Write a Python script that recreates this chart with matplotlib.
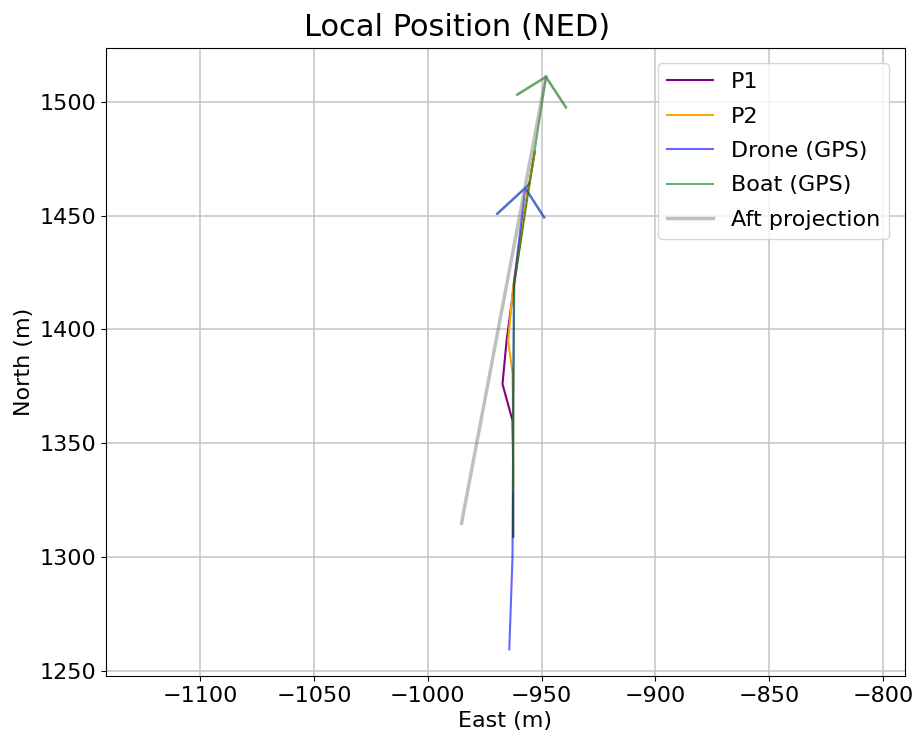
# Local position plot: drone/boat tracks in NED frame
import matplotlib
matplotlib.use("Agg")
import matplotlib.pyplot as plt

# track data (east, north) in metres
p1_e = [-962.5, -962.5, -962.8, -967.2, -965.4, -961.8, -957.0, -953.0]
p1_n = [1309, 1340, 1360, 1376, 1395, 1422, 1455, 1478]

p2_e = [-962.5, -962.5, -962.8, -964.7, -962.5, -957.0, -953.0]
p2_n = [1329, 1360, 1381, 1395, 1419, 1455, 1478]

drone_e = [-964.2, -962.8, -962.5, -962.2, -957.2, -955.5]
drone_n = [1259.5, 1300, 1360, 1420, 1462.1, 1464.0]

boat_e = [-962.5, -962.5, -962.0, -948.1]
boat_n = [1309, 1360, 1420, 1510.9]

aft_e = [-985.2, -948.1]
aft_n = [1314.9, 1510.9]

# heading arrow heads (left wing, tip, right wing)
drone_head_e = [-969.5, -957.2, -948.9]
drone_head_n = [1450.8, 1462.1, 1449.2]
boat_head_e = [-960.7, -948.1, -939.3]
boat_head_n = [1503.1, 1510.9, 1497.5]

fig, ax = plt.subplots(figsize=(9.14, 7.34), dpi=100)
fig.subplots_adjust(left=0.116, right=0.990, bottom=0.079, top=0.935)

ax.plot(p1_e, p1_n, color="purple", lw=1.5, label="P1")
ax.plot(p2_e, p2_n, color="orange", lw=1.5, label="P2")
ax.plot(drone_e, drone_n, color="blue", lw=1.5, alpha=0.6, label="Drone (GPS)")
ax.plot(drone_head_e, drone_head_n, color="#2a48c8", lw=1.8, alpha=0.8)
ax.plot(boat_e, boat_n, color="green", lw=1.5, alpha=0.6, label="Boat (GPS)")
ax.plot(boat_head_e, boat_head_n, color="#2e8b2e", lw=1.8, alpha=0.75)
ax.plot(aft_e, aft_n, color="gray", lw=2.5, alpha=0.5, label="Aft projection")

ax.set_xlim(-1141.5, -790.3)
ax.set_ylim(1247.8, 1523.7)
ax.grid(True, color="#c4c4c4", lw=1.1)
ax.set_axisbelow(True)

fig.suptitle("Local Position (NED)", fontsize=22, y=0.982)
ax.set_xlabel("East (m)", fontsize=16)
ax.set_ylabel("North (m)", fontsize=16)
ax.tick_params(labelsize=16)
ax.legend(loc="upper right", fontsize=16, labelspacing=0.65,
          handlelength=2.1, borderaxespad=0.7)

fig.savefig("out.png", dpi=100)
